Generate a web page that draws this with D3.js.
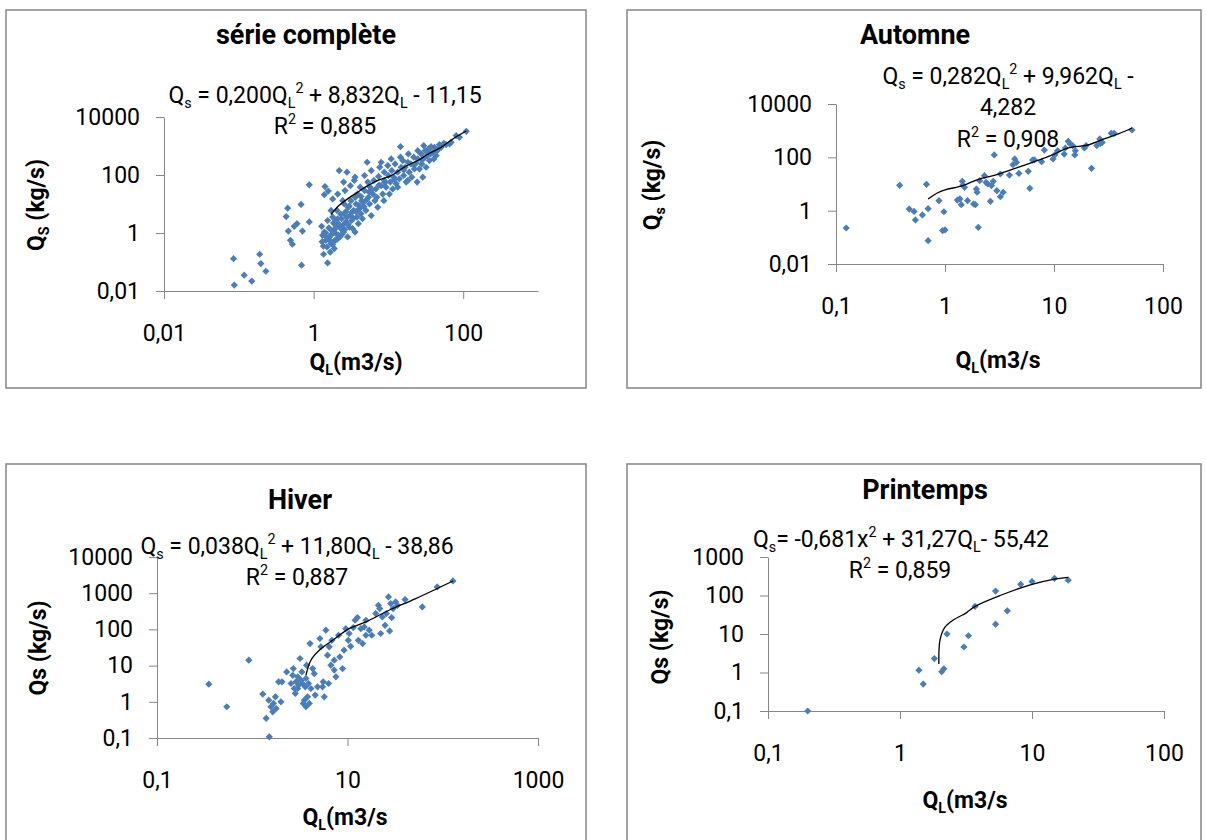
<!DOCTYPE html>
<html>
<head>
<meta charset="utf-8">
<script src="https://cdn.jsdelivr.net/npm/d3@7"></script>
<style>
body { margin: 0; background: #fff; }
text { font-family: Roboto, "Liberation Sans", sans-serif; }
</style>
</head>
<body>
<div id="chart"></div>
<script>
var seriePts = [
  [0.085,0.13],[0.087,0.016],[0.118,0.035],[0.149,0.022],[0.19,0.185],[0.197,0.088],[0.23,0.048],[0.69,0.078],
  [0.43,3.7],[0.45,7.2],[0.46,1.17],[0.49,0.56],[0.52,0.41],[0.55,1.7],[0.6,2.1],[0.68,9.7],[0.71,1.17],[0.875,46],[0.875,2.4],
  [1.28,1.7],[1.32,0.83],[1.36,0.185],[1.39,21],[1.42,40],[1.46,0.56],[1.51,0.33],[1.54,0.093],[1.57,28],[1.62,0.73],
  [1.67,0.22],[1.71,0.43],[1.74,1.24],[1.8,15],[1.85,2.2],[1.89,0.29],[1.93,0.56],[1.99,0.95],[2.05,6],[2.1,22],[2.2,142],
  [2.25,0.73],[2.32,1.41],[2.37,3.1],[2.45,13],[2.52,1.08],[2.57,4.6],[2.63,29],[2.71,2.4],[2.79,125],[2.85,0.73],[2.91,7.8],
  [3.0,1.6],[3.1,4.0],[3.16,13],[3.23,2.7],[3.33,1.41],[3.43,6],[3.5,65],[3.58,1.08],[3.69,10],[3.8,3.55],[3.88,22],[3.96,2.1],
  [4.1,6.9],[4.2,38],[4.3,4.6],[4.4,13],[4.5,3.1],[4.7,8.2],[4.8,29],[5.0,6],[5.2,275],[5.3,57],[5.4,17],[5.6,10],[5.7,38],
  [5.9,4.0],[6.2,22],[6.4,65],[6.6,13],[6.8,33],[7.2,7.8],[7.4,89],[7.65,185],[8.0,43],[8.4,22],[8.7,13],[8.8,65],[9.3,38],
  [9.8,211],[10,96],[10.3,22],[10.6,57],[11.1,142],[11.4,33],[11.8,84],[12.3,240],[12.7,50],[13.3,125],[14,74],[14.5,950],
  [14.8,185],[15.6,315],[16,96],[16.7,185],[17.3,57],[18.2,275],[18.5,535],[19,125],[20,240],[20.5,84],[21.8,410],[22.3,162],
  [23.4,254],[24.2,57],[24.7,357],[26,162],[27.4,535],[27.9,240],[28.8,84],[29.7,1030],[30.3,389],[31,692],[31.9,185],[33,468],
  [34.3,794],[35.4,315],[36.5,535],[37.2,950],[39.2,600],[40.5,357],[41.3,900],[43.5,468],[44.9,692],[48.2,1120],[50.7,900],
  [55,1230],[59,1120],[65.6,1180],[69,1350],[80.6,2290],[89,2000],[110,3200],
  [2.52,57],[3.1,43],[3.58,84],[1.71,6],[1.8,3.55],[2.1,3.1],[1.54,2.7],[1.39,1.08],[2.57,10],[2.1,1.83],[4.8,96],[5.9,142],
  [8.8,125],[8.0,275],[10.9,357],[14.5,410],[24.7,692],[13.3,38],[18.2,65],
  [1.3,0.5],[1.35,0.35],[1.45,1.0],[1.5,0.7],[1.6,1.5],[1.65,0.55],[1.75,0.9],[1.8,0.4],[1.9,1.3],[1.95,2.5],[2.0,1.7],
  [2.05,0.6],[2.15,0.85],[2.2,2.0],[2.3,4.5],[2.4,0.9],[2.5,1.9],[2.6,1.3],[2.7,5.5],[2.8,3.5],[2.9,2.0],[3.0,8.5],[3.2,5],
  [3.4,3.2],[3.6,17],[3.7,5.5],[4.0,9],[4.3,18],[4.6,11],[5.1,14],[5.5,26],[6.0,30],[7,17],[7.5,45],[9,55],[12,70],[16,150],
  [22,220],[28,330],[35,600],[45,800]
];
var serieTrend = [[1.71,4.3],[2.2,9],[2.85,15],[4,27],[5.3,43],[7.5,68],[10.9,95],[17,200],[24.7,315],[35,550],[50.7,900],[76,1890],[110,3300]];

var automnePts = [
  [0.124,0.224],[0.384,8.9],[0.676,9.7],[0.47,1.15],[0.52,0.94],[0.535,0.45],[0.62,0.69],[0.70,1.19],[0.70,0.075],[0.88,2.37],
  [0.977,0.91],[0.95,0.18],[1.0,0.19],[1.30,2.5],[1.37,2.75],[1.41,1.68],[1.44,12.6],[1.46,9.1],[1.51,7.5],[1.61,2.37],
  [1.83,1.78],[1.9,1.68],[1.94,6.5],[1.97,4.9],[2.02,0.237],[2.08,13.3],[2.30,20.5],[2.38,11.5],[2.47,10],[2.61,2.24],
  [2.67,8.7],[2.77,12.6],[2.83,123],[3.22,23.7],[3.22,3.35],[3.42,4.9],[3.9,21.7],[4.2,53],[4.36,87],[4.53,65],[4.77,25],
  [5.8,30],[6.0,6.9],[6.36,79],[6.6,81],[7.7,69],[8.15,188],[9.8,87],[10.2,126],[10.8,178],[12.4,133],[12.7,224],[13.5,398],
  [14.1,316],[14.8,275],[15.5,123],[15.7,178],[19,224],[19.7,275],[22.1,38.7],[24.7,275],[26.3,490],[26.7,335],[27.7,363],
  [33.5,794],[35.6,794],[51.9,1060],[2.99,5.6]
];
var automneTrend = [[0.70,2.74],[0.85,4.6],[1.0,6],[1.46,8.7],[2.02,15],[2.99,22.4],[4.53,40],[6.36,65],[9.3,115],[13.5,224],[20.5,290],[28.8,490],[39,760],[51.9,1260]];

var hiverPts = [
  [0.35,3.07],[0.54,0.73],[0.92,14.1],[1.29,1.63],[1.40,0.35],[1.51,0.108],[1.49,1.11],[1.57,0.73],[1.64,0.53],[1.67,0.90],
  [1.75,1.37],[1.78,0.65],[2.0,1.0],[1.89,3.56],[2.05,3.56],[2.30,6.7],[2.55,3.2],[2.66,5.4],[2.70,8.3],[2.76,2.33],[2.83,1.70],
  [2.88,3.56],[3.0,4.9],[3.07,2.88],[3.17,15.7],[3.25,3.96],[3.32,6.7],[3.43,0.9],[3.52,1.11],[3.60,2.59],[3.66,4.4],[3.72,10.3],
  [3.81,1.37],[3.90,3.2],[4.04,40.5],[4.13,2.33],[4.30,8.3],[4.48,6.0],[4.58,1.53],[4.85,2.59],[5.13,56],[5.47,2.59],[5.56,3.56],
  [5.93,95],[6.17,19.4],[6.33,3.2],[6.43,33],[6.69,10.3],[6.85,50],[7.25,14.1],[7.55,4.9],[8.05,69],[8.3,17.4],[8.87,8.3],
  [9.6,105],[10.2,50],[10.8,34],[11.5,112],[12,179],[12.7,212],[13,50],[13.8,105],[14.4,40.6],[15,117],[15.6,69],[16.9,95],
  [18,69],[19.8,273],[21.1,464],[21.8,376],[22.3,77],[24.8,130],[25.6,273],[26.9,789],[27.7,91],[29.1,212],[30.1,376],[32,574],
  [33.4,464],[40.2,665],[61,418],[87.5,1486],[128,2178],[3.0,2.33],[3.38,3.2],[3.97,0.9],[3.66,0.73],[5.7,1.37],[7.25,7.5],
  [9.2,26.6],[10.4,77],[15.6,179],[23.2,221],[28.4,516],[5.26,33]
];
var hiverTrend = [[3.66,5.4],[4.13,14.1],[5.05,26.6],[6.97,50],[10.4,105],[15.6,161],[27.3,338],[52,709],[128,2178]];

var printempsPts = [
  [0.2,0.1],[1.39,1.15],[1.5,0.5],[1.82,2.3],[2.07,1.05],[2.15,1.25],[2.27,10],[3.05,4.6],[3.3,9],[3.7,52],[5.3,18],
  [5.3,130],[6.5,40],[8.2,195],[10,230],[14.8,280],[18.8,250]
];
var printempsTrend = [[1.97,1.66],[2.01,7],[2.19,15],[2.53,23],[3.2,36],[3.7,52],[5.73,100],[10,195],[14.5,263],[18.8,295]];

// axis ticks
var serieXTicks = [0.01, 1, 100], serieYTicks = [0.01, 1, 100, 10000];
var automneXTicks = [0.1, 1, 10, 100], automneYTicks = [0.01, 1, 100, 10000];
var hiverXTicks = [0.1, 10, 1000], hiverYTicks = [0.1, 1, 10, 100, 1000, 10000];
var printempsXTicks = [0.1, 1, 10, 100], printempsYTicks = [0.1, 1, 10, 100, 1000];

var FS = 23;

var svg = d3.select("#chart")
    .append("svg")
    .attr("width", 1206)
    .attr("height", 840);

var panels = [
  { pts: seriePts, trend: serieTrend, xTicks: serieXTicks, yTicks: serieYTicks,
    xDom: [0.01, 1000], yDom: [0.01, 10000],
    frame: [6, 10, 586, 388], plot: [164, 117, 538, 291],
    title: ["série complète", 306, 35],
    labels: [
      [[["Q"], ["s", "sub"], [" = 0,200Q"], ["L", "sub"], ["2", "sup"], [" + 8,832Q"], ["L", "sub"], [" - 11,15"]], 325, 95],
      [[["R"], ["2", "sup"], [" = 0,885"]], 325, 126]
    ],
    yTitle: [[["Q"], ["S", "sub"], [" (kg/s)"]], 36, 205],
    xTitle: [[["Q"], ["L", "sub"], ["(m3/s)"]], 356, 362] },
  { pts: automnePts, trend: automneTrend, xTicks: automneXTicks, yTicks: automneYTicks,
    xDom: [0.1, 100], yDom: [0.01, 10000],
    frame: [627, 10, 1201, 388], plot: [836, 104, 1163, 264],
    title: ["Automne", 915, 35],
    labels: [
      [[["Q"], ["s", "sub"], [" = 0,282Q"], ["L", "sub"], ["2", "sup"], [" + 9,962Q"], ["L", "sub"], [" -"]], 1008, 76],
      [[["4,282"]], 1008, 107],
      [[["R"], ["2", "sup"], [" = 0,908"]], 1008, 139]
    ],
    yTitle: [[["Q"], ["s", "sub"], [" (kg/s)"]], 652, 185],
    xTitle: [[["Q"], ["L", "sub"], ["(m3/s"]], 998, 360] },
  { pts: hiverPts, trend: hiverTrend, xTicks: hiverXTicks, yTicks: hiverYTicks,
    xDom: [0.1, 1000], yDom: [0.1, 10000],
    frame: [6, 464, 586, 900], plot: [157, 557, 538, 738],
    title: ["Hiver", 300, 500],
    labels: [
      [[["Q"], ["s", "sub"], [" = 0,038Q"], ["L", "sub"], ["2", "sup"], [" + 11,80Q"], ["L", "sub"], [" - 38,86"]], 297, 546],
      [[["R"], ["2", "sup"], [" = 0,887"]], 297, 577]
    ],
    yTitle: [[["Qs (kg/s)"]], 38, 648],
    xTitle: [[["Q"], ["L", "sub"], ["(m3/s"]], 345, 817] },
  { pts: printempsPts, trend: printempsTrend, xTicks: printempsXTicks, yTicks: printempsYTicks,
    xDom: [0.1, 100], yDom: [0.1, 1000],
    frame: [627, 464, 1201, 900], plot: [768, 557, 1164, 711],
    title: ["Printemps", 925, 490],
    labels: [
      [[["Q"], ["s", "sub"], ["= -0,681x"], ["2", "sup"], [" + 31,27Q"], ["L", "sub"], ["- 55,42"]], 901, 539],
      [[["R"], ["2", "sup"], [" = 0,859"]], 900, 570]
    ],
    yTitle: [[["Qs (kg/s)"]], 660, 637],
    xTitle: [[["Q"], ["L", "sub"], ["(m3/s"]], 965, 800] }
];

// text with sub / superscripts, centred on (x, y)
function rich(g, parts, x, y, size, bold, rotate) {
  var t = g.append("text")
      .attr("text-anchor", "middle")
      .attr("font-size", size)
      .attr("font-weight", bold ? "bold" : "normal")
      .attr("fill", "#000")
      .style("white-space", "pre");
  if (rotate) t.attr("transform", "translate(" + x + "," + y + ") rotate(-90)").attr("y", size * 0.35);
  else t.attr("x", x).attr("y", y + size * 0.35);
  parts.forEach(function (p) {
    var s = t.append("tspan").text(p[0]);
    if (p[1] == "sub") s.attr("font-size", size * 0.62).attr("baseline-shift", -size * 0.2);
    if (p[1] == "sup") s.attr("font-size", size * 0.62).attr("baseline-shift", size * 0.42);
  });
}

var fmt = function (d) { return String(d).replace(".", ","); };

panels.forEach(function (p) {
  var g = svg.append("g");

  // chart frame
  g.append("rect")
    .attr("x", p.frame[0]).attr("y", p.frame[1])
    .attr("width", p.frame[2] - p.frame[0]).attr("height", p.frame[3] - p.frame[1])
    .attr("fill", "#fff")
    .attr("stroke", "#8c8c8c")
    .attr("stroke-width", 1.6);

  var x = d3.scaleLog().domain(p.xDom).range([p.plot[0], p.plot[2]]);
  var y = d3.scaleLog().domain(p.yDom).range([p.plot[3], p.plot[1]]);

  var xa = g.append("g")
    .attr("transform", "translate(0," + p.plot[3] + ")")
    .call(d3.axisBottom(x).tickValues(p.xTicks).tickFormat(fmt).tickSize(8).tickSizeOuter(0).tickPadding(26));
  var ya = g.append("g")
    .attr("transform", "translate(" + p.plot[0] + ",0)")
    .call(d3.axisLeft(y).tickValues(p.yTicks).tickFormat(fmt).tickSize(8).tickSizeOuter(0).tickPadding(16));
  [xa, ya].forEach(function (a) {
    a.attr("font-size", FS);
    a.selectAll("path, line").attr("stroke", "#868686");
    a.selectAll("text").attr("fill", "#000");
  });

  // points (diamonds)
  g.selectAll("path.pt")
    .data(p.pts)
    .enter()
    .append("path")
    .attr("class", "pt")
    .attr("d", d3.symbol(d3.symbolSquare, 26))
    .attr("transform", function (d) { return "translate(" + x(d[0]) + "," + y(d[1]) + ") rotate(45)"; })
    .attr("fill", "#4a7ebb");

  // polynomial trend line
  g.append("path")
    .datum(p.trend)
    .attr("fill", "none")
    .attr("stroke", "#000")
    .attr("stroke-width", 1.3)
    .attr("d", d3.line()
      .x(function (d) { return x(d[0]); })
      .y(function (d) { return y(d[1]); })
      .curve(d3.curveCatmullRom.alpha(0.5)));

  g.append("text")
    .attr("x", p.title[1]).attr("y", p.title[2] + 27 * 0.35)
    .attr("text-anchor", "middle")
    .attr("font-size", 27)
    .attr("font-weight", "bold")
    .text(p.title[0]);

  p.labels.forEach(function (l) { rich(g, l[0], l[1], l[2], FS, false, false); });
  rich(g, p.yTitle[0], p.yTitle[1], p.yTitle[2], FS, true, true);
  rich(g, p.xTitle[0], p.xTitle[1], p.xTitle[2], FS, true, false);
});
</script>
</body>
</html>
